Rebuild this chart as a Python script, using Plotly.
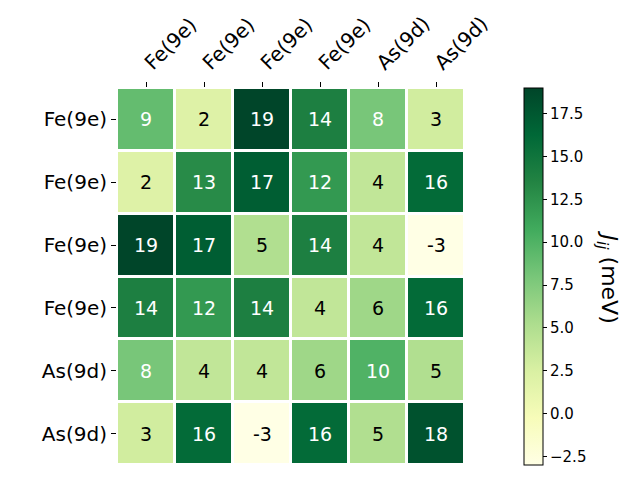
import plotly.graph_objects as go

row_labels = ["Fe(9e)", "Fe(9e)", "Fe(9e)", "Fe(9e)", "As(9d)", "As(9d)"]
col_labels = ["Fe(9e)", "Fe(9e)", "Fe(9e)", "Fe(9e)", "As(9d)", "As(9d)"]
values = [
    [9, 2, 19, 14, 8, 3],
    [2, 13, 17, 12, 4, 16],
    [19, 17, 5, 14, 4, -3],
    [14, 12, 14, 4, 6, 16],
    [8, 4, 4, 6, 10, 5],
    [3, 16, -3, 16, 5, 18],
]
cbar_ticks = [-2.5, 0.0, 2.5, 5.0, 7.5, 10.0, 12.5, 15.0, 17.5]
zmin, zmax = -3, 19

FONT = "DejaVu Sans"
n = len(values)
idx = list(range(n))

fig = go.Figure()
fig.add_trace(go.Heatmap(
    z=values, x=idx, y=idx,
    colorscale="YlGn", zmin=zmin, zmax=zmax,
    xgap=3, ygap=3,
    colorbar=dict(
        x=(524 - 117) / 348, xanchor="left", y=0.5, yanchor="middle",
        xpad=0, ypad=0,
        len=1, lenmode="fraction", thickness=19, thicknessmode="pixels",
        outlinewidth=1, outlinecolor="black",
        ticks="outside", ticklen=4, tickcolor="black",
        tickvals=cbar_ticks,
        ticktext=[("\u2212" if t < 0 else "") + f"{abs(t):.1f}" for t in cbar_ticks],
        tickfont=dict(family=FONT, size=15, color="black"),
    ),
    hoverinfo="skip",
))

thr = 7
for i, row in enumerate(values):
    for j, v in enumerate(row):
        fig.add_annotation(
            x=j, y=i, text=("-" if v < 0 else "") + str(abs(v)), showarrow=False,
            font=dict(family=FONT, size=19, color="white" if v > thr else "black"),
        )

fig.add_annotation(
    xref="paper", yref="paper", x=(607 - 117) / 348, y=0.5,
    xanchor="center", yanchor="middle",
    text="<i>J</i><sub><i>ij</i></sub> (meV)", textangle=90, showarrow=False,
    font=dict(family=FONT, size=22, color="black"),
)

fig.update_xaxes(
    side="top", tickvals=idx, ticktext=col_labels, tickangle=-45,
    ticks="outside", ticklen=5, tickcolor="black",
    showgrid=False, zeroline=False, showline=False,
    range=[-0.5, n - 0.5],
    tickfont=dict(family=FONT, size=20, color="black"),
)
fig.update_yaxes(
    tickvals=idx, ticktext=row_labels, autorange=False, range=[n - 0.5, -0.5],
    ticks="outside", ticklen=5, tickcolor="black",
    showgrid=False, zeroline=False, showline=False,
    tickfont=dict(family=FONT, size=20, color="black"),
)
fig.update_layout(
    width=640, height=480,
    margin=dict(l=117, r=175, t=84, b=15),
    plot_bgcolor="white", paper_bgcolor="white",
    font=dict(family=FONT),
)
fig.write_html("out.html")
